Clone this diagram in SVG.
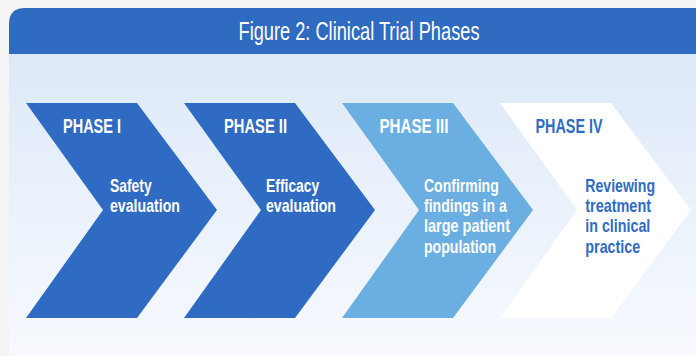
<svg xmlns="http://www.w3.org/2000/svg" width="696" height="356" viewBox="0 0 696 356">
  <defs>
    <linearGradient id="bodyGrad" x1="0" y1="0" x2="0" y2="1">
      <stop offset="0" stop-color="#dde9f8"/>
      <stop offset="1" stop-color="#f8fafe"/>
    </linearGradient>
    <style>
      .title { font-family: "Liberation Sans Narrow", "Liberation Sans", Arial, sans-serif; font-size: 25px; fill: #ffffff; }
      .phase { font-family: "Liberation Sans Narrow", "Liberation Sans", Arial, sans-serif; font-size: 20px; font-weight: bold; fill: #ffffff; }
      .body { font-family: "Liberation Sans Narrow", "Liberation Sans", Arial, sans-serif; font-size: 18.5px; font-weight: bold; fill: #ffffff; }
      .dark { fill: #2f6bc2; }
      .light { fill: #6aaee2; }
      .white { fill: #ffffff; }
      .blueText { fill: #2f6bc2; }
    </style>
  </defs>

  <rect x="0" y="0" width="696" height="356" fill="#f4f4f4"/>

  <g id="panel">
    <rect x="9" y="54" width="700" height="310" fill="url(#bodyGrad)"/>
    <path d="M9,54 L9,24 Q9,8 25,8 L696,8 L696,54 Z" fill="#2f6bc1"/>
    <text class="title" x="238.5" y="39.5" textLength="241" lengthAdjust="spacingAndGlyphs">Figure 2: Clinical Trial Phases</text>
  </g>

  <g id="phase1">
    <path class="dark" d="M26,103 L137,103 L217,210 L137,318 L26,318 L103,210 Z"/>
    <text class="phase" x="63" y="132.7" textLength="58" lengthAdjust="spacingAndGlyphs">PHASE I</text>
    <text class="body" x="110" y="191.7" textLength="41.7" lengthAdjust="spacingAndGlyphs">Safety</text>
    <text class="body" x="110" y="212" textLength="70" lengthAdjust="spacingAndGlyphs">evaluation</text>
  </g>

  <g id="phase2">
    <path class="dark" d="M184,103 L295,103 L375,210 L295,318 L184,318 L261,210 Z"/>
    <text class="phase" x="224" y="132.7" textLength="63" lengthAdjust="spacingAndGlyphs">PHASE II</text>
    <text class="body" x="266" y="191.7" textLength="53.3" lengthAdjust="spacingAndGlyphs">Efficacy</text>
    <text class="body" x="266" y="212" textLength="70" lengthAdjust="spacingAndGlyphs">evaluation</text>
  </g>

  <g id="phase3">
    <path class="light" d="M342,103 L453,103 L533,210 L453,318 L342,318 L419,210 Z"/>
    <text class="phase" x="379.5" y="132.7" textLength="69" lengthAdjust="spacingAndGlyphs">PHASE III</text>
    <text class="body" x="424" y="191.7" textLength="74.7" lengthAdjust="spacingAndGlyphs">Confirming</text>
    <text class="body" x="424" y="212" textLength="82.7" lengthAdjust="spacingAndGlyphs">findings in a</text>
    <text class="body" x="424" y="232.3" textLength="86" lengthAdjust="spacingAndGlyphs">large patient</text>
    <text class="body" x="424" y="252.6" textLength="72" lengthAdjust="spacingAndGlyphs">population</text>
  </g>

  <g id="phase4">
    <path class="white" d="M500,103 L611,103 L691,210 L611,318 L500,318 L577,210 Z"/>
    <text class="phase blueText" x="535.5" y="132.7" textLength="67" lengthAdjust="spacingAndGlyphs">PHASE IV</text>
    <text class="body blueText" x="585.3" y="191.7" textLength="69.7" lengthAdjust="spacingAndGlyphs">Reviewing</text>
    <text class="body blueText" x="585.3" y="212" textLength="65.7" lengthAdjust="spacingAndGlyphs">treatment</text>
    <text class="body blueText" x="585.3" y="232.3" textLength="65" lengthAdjust="spacingAndGlyphs">in clinical</text>
    <text class="body blueText" x="585.3" y="252.6" textLength="55" lengthAdjust="spacingAndGlyphs">practice</text>
  </g>

  <g id="connectors"/>
</svg>
